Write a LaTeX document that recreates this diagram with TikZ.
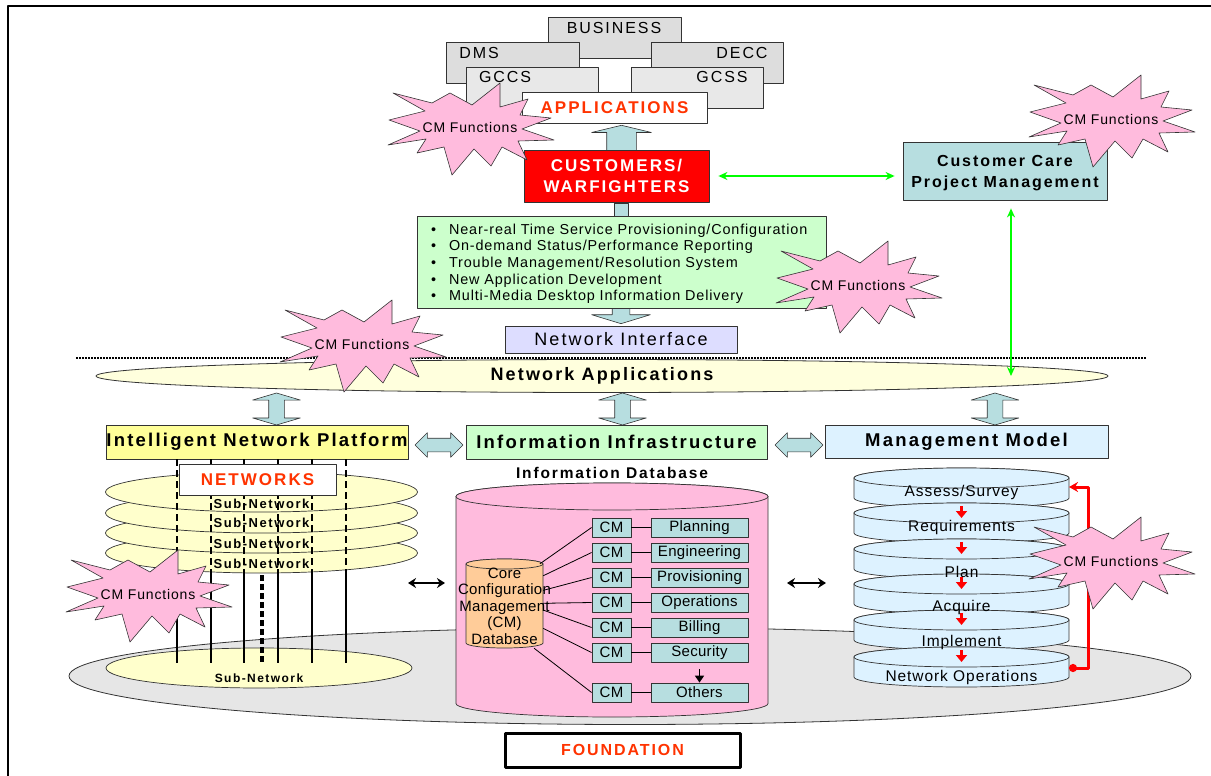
\documentclass[tikz,border=0pt]{standalone}
\usepackage{fontspec}
\setmainfont{Liberation Sans}[LetterSpace=6]
\newfontfamily\wdfont{Liberation Sans}[LetterSpace=12]
\newfontfamily\nrfont{Liberation Sans}[LetterSpace=2]
\usepackage{xcolor}
\usetikzlibrary{%
   arrows.meta,%
   calc,%
   positioning,%
   shapes.geometric,%
   shapes.arrows}
\tikzset{>={Stealth[width=3mm,length=3mm]}}

\definecolor{tealfill}{HTML}{B7DEE0}
\definecolor{pinkfill}{HTML}{FFBBDD}
\definecolor{appred}{HTML}{FF3300}
\definecolor{mintfill}{HTML}{CCFFCC}
\definecolor{lavfill}{HTML}{DDDDFF}
\definecolor{creamfill}{HTML}{FFFFDD}
\definecolor{yelfill}{HTML}{FFFF99}
\definecolor{skyfill}{HTML}{DDF2FF}
\definecolor{subfill}{HTML}{FFFFCC}
\definecolor{appgray}{HTML}{DDDDDD}
\definecolor{appgray2}{HTML}{E8E8E8}
\definecolor{foundgray}{HTML}{E6E6E6}
\definecolor{corefill}{HTML}{FFCC99}
\definecolor{edgegray}{HTML}{333333}

\newcommand{\fsz}[2]{\fontsize{#1}{#2}\selectfont}

\tikzset{
  plain box/.style={
    draw=edgegray,
    line width=0.8pt,
    inner sep=0pt,
  },
  app box/.style={
    plain box,
    fill=appgray,
  },
  app text/.style={
    font=\wdfont\fsz{16}{16},
    inner sep=0pt,
  },
  red title/.style={
    font=\wdfont\bfseries\fsz{17}{17},
    text=appred,
  },
  head box/.style={
    plain box,
    font=\wdfont\bfseries\fsz{18.5}{18.5},
    minimum height=34pt,
  },
  fat single/.style={
    single arrow,
    draw=edgegray,
    line width=0.6pt,
    fill=tealfill,
    anchor=tip,
  },
  fat double/.style={
    double arrow,
    draw=edgegray,
    line width=0.6pt,
    fill=tealfill,
  },
  burst/.style={
    draw=edgegray,
    line width=0.6pt,
    fill=pinkfill,
  },
  burst text/.style={
    font=\fsz{14}{14},
    inner sep=0pt,
  },
  cm box/.style={
    plain box,
    fill=tealfill,
    minimum width=39pt,
    minimum height=19pt,
    font=\nrfont\fsz{15}{15},
  },
  fn box/.style={
    cm box,
    minimum width=97pt,
  },
  drum/.style={
    draw=edgegray,
    line width=0.7pt,
  },
  disk label/.style={
    font=\fsz{15.5}{15.5},
    inner sep=0pt,
  },
  sub net/.style={
    ellipse,
    draw=edgegray,
    line width=0.7pt,
    fill=subfill,
    inner sep=0pt,
  },
  sub label/.style={
    font=\wdfont\bfseries\fsz{13}{13},
    inner sep=0pt,
  },
  net line/.style={
    line width=1.4pt,
    dash pattern=on 7pt off 4pt,
  },
  red step/.style={
    red,
    line width=2.4pt,
    -{Triangle[width=11pt,length=7pt]},
  },
  red loop/.style={
    red,
    line width=3pt,
    {Circle[length=8pt]}-{Stealth[length=9pt,width=10pt]},
  },
  black link/.style={
    line width=1.8pt,
    {Stealth[length=8pt,width=10pt]}-{Stealth[length=8pt,width=10pt]},
  },
  green link/.style={
    green,
    line width=1.4pt,
    {Stealth[length=9pt,width=8pt]}-{Stealth[length=9pt,width=8pt]},
  },
}

% drum: style, centre x, top y, bottom y, x radius, y radius
\newcommand{\drum}[6]{%
  \draw[#1] ({#2-#5},#3) -- ({#2-#5},#4)
    arc[start angle=180, end angle=360, x radius=#5pt, y radius=#6pt]
    -- ({#2+#5},#3)
    arc[start angle=0, end angle=180, x radius=#5pt, y radius=#6pt] -- cycle;
  \draw[#1] (#2,#3) ellipse[x radius=#5pt, y radius=#6pt];
}

% starburst with its label: name, centre
\newcommand{\cmburst}[2]{%
  \begin{scope}[shift={(#2)}]
    \draw[burst] (-81,-7) \foreach \bx/\by in {-45/-16,-77/-34,-38/-24,-20/-34,2/-22,30/-44,30/-20,58/-28,50/-12,81/-9,52/2,84/13,48/14,57/33,32/20,21/39,4/22,-18/48,-26/20,-53/26,-44/12,-82/18,-50/4} {-- (\bx,\by)} -- cycle;
    \node[burst text] (#1) at (0,0) {CM Functions};
  \end{scope}
}

\begin{document}
\begin{tikzpicture}[
            x = 1pt, % one unit per pixel
            y = -1pt, % rows run downwards
            line join = round
        ]
        \useasboundingbox (0,0) rectangle (1211,776);

        % frame
        \draw[line width=2pt] (8,776) -- (8,6) -- (1211,6);

        % applications
        \node[app box, minimum width=133pt, minimum height=41pt] (biz) at (614.5,37.5) {};
        \node[app text] (bizT) at (614,28) {BUSINESS};
        \node[app box, minimum width=133pt, minimum height=41pt] (dms) at (512.5,62.5) {};
        \node[app text] (dmsT) at (479,53) {DMS};
        \node[app box, minimum width=132pt, minimum height=41pt] (decc) at (717,62.5) {};
        \node[app text] (deccT) at (742,53) {DECC};
        \node[app box, fill=appgray2, minimum width=132pt, minimum height=41pt] (gccs) at (532,87.5) {};
        \node[app text] (gccsT) at (505,77) {GCCS};
        \node[app box, fill=appgray2, minimum width=132pt, minimum height=41pt] (gcss) at (697,87.5) {};
        \node[app text] (gcssT) at (722,77) {GCSS};
        \node[plain box, fill=white, red title, minimum width=185pt, minimum height=31pt] (apps) at (614.5,107.5) {APPLICATIONS};

        \node[fat single, shape border rotate=90, inner sep=14.5pt, single arrow head extend=15pt,
              single arrow tip angle=153, minimum height=25pt] (upA) at (621.5,125) {};
        \node[plain box, fill=red, text=white, font=\wdfont\bfseries\fsz{17}{21}, align=center,
              minimum width=185pt, minimum height=52pt] (cust) at (616.5,176) {CUSTOMERS/\\WARFIGHTERS};
        \node[plain box, fill=tealfill, font=\wdfont\bfseries\fsz{16}{21}, align=center,
              minimum width=204pt, minimum height=58pt] (care) at (1005,171) {\rule{0pt}{15pt}Customer Care\\Project Management};

        \node[plain box, fill=tealfill, minimum width=14pt, minimum height=13pt] (stub) at (621,209.5) {};
        \node[fat single, shape border rotate=270, inner sep=8.5pt, single arrow head extend=20.5pt,
              single arrow tip angle=146, minimum height=20pt] (downA) at (621,324) {};
        \node[plain box, fill=mintfill, font=\fsz{14.4}{16.6}, text width=381pt, inner xsep=14pt,
              minimum height=92pt, align=left] (feat) at (621.5,262) {%
          \rule{0pt}{14pt}\textbullet\hspace{13pt}Near-real Time Service Provisioning/Configuration\\
          \textbullet\hspace{13pt}On-demand Status/Performance Reporting\\
          \textbullet\hspace{13pt}Trouble Management/Resolution System\\
          \textbullet\hspace{13pt}New Application Development\\
          \textbullet\hspace{13pt}Multi-Media Desktop Information Delivery};
        \node[plain box, fill=lavfill, font=\wdfont\fsz{18}{18}, minimum width=232pt,
              minimum height=27pt] (netif) at (621,339.5) {Network Interface};

        \draw[green link, shorten <=9pt, shorten >=8pt] (cust.east) -- (cust.east -| care.west);

        % network applications
        \coordinate (dashL) at (76,358);
        \coordinate (dashR) at (1146,358);
        \draw[line width=1.4pt, dash pattern=on 2pt off 1pt] (dashL) -- (dashR);
        \node[ellipse, draw=edgegray, line width=0.8pt, fill=creamfill, inner sep=0pt,
              font=\wdfont\bfseries\fsz{18}{18}, minimum width=1012pt, minimum height=33pt] (netapps) at (602,376) {Network Applications};

        \coordinate (careG) at ([xshift=6pt]care.south);
        \draw[green link, shorten <=8pt] (careG) -- (careG |- netapps.center);

        \foreach \x/\nm in {276.5/vA, 622.5/vB, 995/vC}
          \node[fat double, shape border rotate=90, inner sep=7.5pt, double arrow head extend=16pt,
                double arrow tip angle=147, minimum height=32pt] (\nm) at (\x,409) {};

        \node[head box, fill=yelfill, minimum width=302pt] (inp) at (257,442) {Intelligent Network Platform};
        \node[head box, fill=mintfill, minimum width=301pt] (infra) at (616.5,442) {Information Infrastructure};
        \node[head box, fill=skyfill, minimum width=283pt, minimum height=33pt] (mgmt) at (966.5,442) {Management Model};

        \foreach \x/\nm in {439/hA, 799/hB}
          \node[fat double, inner sep=6.5pt, double arrow head extend=5.5pt,
                double arrow tip angle=90, minimum height=48pt] (\nm) at (\x,445) {};

        % foundation
        \node[ellipse, draw=edgegray, line width=0.8pt, fill=foundgray, minimum width=1122pt,
              minimum height=97pt] (found) at (630,676) {};

        % networks
        \foreach \yy/\nm in {553/s4, 533/s3, 513/s2, 492/s1}
          \node[sub net, minimum width=312pt, minimum height=40pt] (\nm) at (261.5,\yy) {};
        \foreach \yy/\nm in {504/s1T, 523/s2T, 544/s3T, 564/s4T}
          \node[sub label] (\nm) at (261.5,\yy) {Sub-Network};
        \node[sub net, minimum width=306pt, minimum height=40pt] (sb) at (259,668) {};
        \node[sub label, font=\wdfont\bfseries\fsz{12}{12}] (sbT) at (259,678) {Sub-Network};
        \foreach \x in {177,211,244,278,312,346} {
          \draw[net line] (\x,459) -- (\x,575);
          \draw[line width=1.3pt] (\x,575) -- (\x,663);
        }
        \draw[line width=4pt, dash pattern=on 6pt off 3pt] (262,575) -- (262,663);
        \node[plain box, fill=white, red title, minimum width=157pt, minimum height=31pt] (nets) at (257.5,479.5) {NETWORKS};

        % information database
        \node[font=\wdfont\bfseries\fsz{15.5}{15.5}, inner sep=0pt] (dbT) at (612,473) {Information Database};
        \drum{drum, fill=pinkfill}{612}{496.5}{703.5}{156}{13.5}
        \drum{drum, fill=corefill}{504.5}{564}{643}{38.5}{5}
        \node[minimum width=77pt, minimum height=84pt, inner sep=0pt] (core) at (504.5,606) {};
        \node[font=\nrfont\fsz{15}{16.5}, align=center, inner sep=0pt] (coreT) at (504.5,606)
          {Core\\Configuration\\Management\\(CM)\\Database};

        \foreach \fn/\yy [count=\i] in {Planning/527.5, Engineering/552.5, Provisioning/577.5,
            Operations/602.5, Billing/627.5, Security/652.5, Others/692.5} {
          \node[cm box] (cm\i) at (611.5,\yy) {CM};
          \node[fn box] (fn\i) at (699.5,\yy) {\fn};
          \path[draw, line width=0.8pt] (cm\i) edge (fn\i);
        }
        \foreach \a [count=\i] in {50,38,22,4,-6,-30,-55}
          \draw[line width=0.8pt] (core.\a) -- (cm\i.west);
        \draw[line width=1.6pt, -{Triangle[width=9pt,length=7pt]}, shorten <=7pt] (fn6.south) -- (fn7.north);

        % management model
        \foreach \c [count=\i] in {478,513,549,584,620,657} {
          \drum{drum, fill=skyfill}{961.5}{\c}{\c+20}{107.5}{10}
          \coordinate (t\i) at (961.5,\c);
        }
        \node[disk label] (assess) at (961.5,492) {Assess/Survey};
        \node[disk label] (reqs) at (961.5,527) {Requirements};
        \node[disk label] (plan) at (961.5,572) {Plan};
        \node[disk label] (acquire) at (961.5,607) {Acquire};
        \node[disk label] (impl) at (961.5,642) {Implement};
        \node[disk label] (netops) at (961.5,677) {Network Operations};
        \foreach \i in {2,...,6}
          \draw[red step] ([yshift=7pt]t\i) -- ([yshift=-5pt]t\i);
        \coordinate (nopR) at (1069,668);
        \coordinate (assR) at (1069,487);
        \draw[red loop] (nopR) -- ++(19,0) |- (assR);

        % side links
        \coordinate (lA) at (408,583);
        \coordinate (lB) at (445,583);
        \coordinate (rA) at (787,583);
        \coordinate (rB) at (826,583);
        \draw[black link] (lA) -- (lB);
        \draw[black link] (rA) -- (rB);

        \node[plain box, fill=white, draw=black, line width=3pt, red title, font=\wdfont\bfseries\fsz{16}{16},
              minimum width=235pt, minimum height=34pt] (fbox) at (622.5,750) {FOUNDATION};

        % CM functions
        \cmburst{burstA}{470,127}
        \cmburst{burstB}{1111,119}
        \cmburst{burstC}{858,285}
        \cmburst{burstD}{362,344}
        \cmburst{burstE}{148,594}
        \cmburst{burstF}{1111,561}
\end{tikzpicture}
\end{document}
